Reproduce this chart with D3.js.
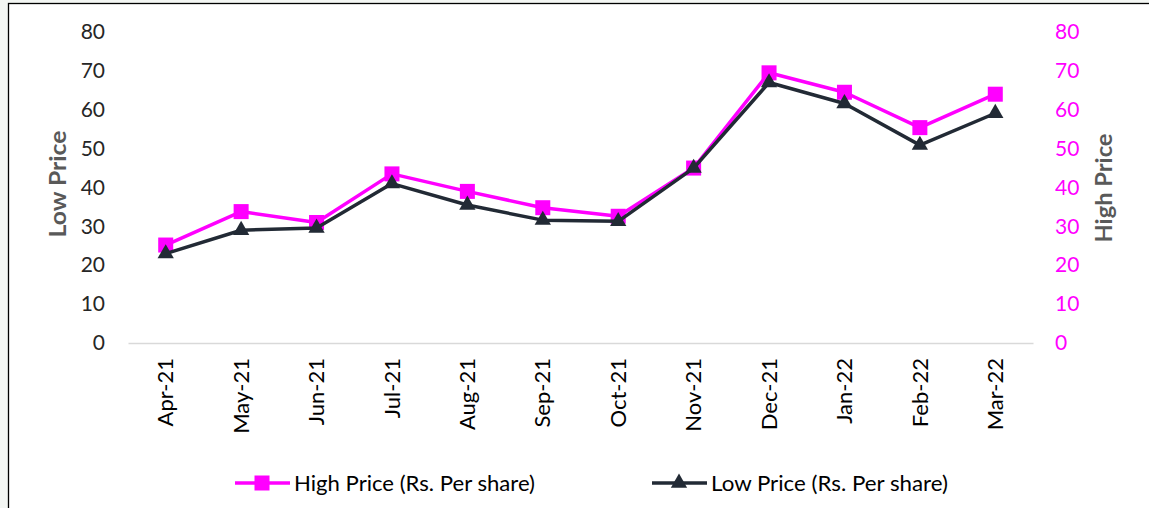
<!DOCTYPE html>
<html>
<head>
<meta charset="utf-8">
<script src="https://cdn.jsdelivr.net/npm/d3@7"></script>
<style>
  body { margin: 0; background: #f3f6f3; }
  svg { display: block; }
  text { font-family: Lato, "Open Sans", sans-serif; }
</style>
</head>
<body>
<div id="chart"></div>
<script>
// data
const months = ["Apr-21", "May-21", "Jun-21", "Jul-21", "Aug-21", "Sep-21",
                "Oct-21", "Nov-21", "Dec-21", "Jan-22", "Feb-22", "Mar-22"];
const highPrice = [25.2, 33.8, 31.0, 43.5, 39.0, 34.8, 32.6, 45.0, 69.5, 64.5, 55.4, 64.0];
const lowPrice  = [23.0, 29.0, 29.6, 41.0, 35.5, 31.6, 31.3, 45.0, 67.0, 61.6, 50.9, 59.1];
const yTicks = [0, 10, 20, 30, 40, 50, 60, 70, 80];

const pink = "#ff00ff";
const dark = "#222a35";

const W = 1149, H = 508;
const margin = {top: 32, right: 116, bottom: 165, left: 128};
const width = W - margin.left - margin.right;
const height = H - margin.top - margin.bottom;

const svg = d3.select("#chart").append("svg")
    .attr("width", W)
    .attr("height", H);

// frame
svg.append("rect")
    .attr("x", 8.5).attr("y", 3.5)
    .attr("width", W + 10).attr("height", H + 10)
    .attr("fill", "white")
    .attr("stroke", "#000")
    .attr("stroke-width", 1.3);

const g = svg.append("g")
    .attr("transform", `translate(${margin.left},${margin.top})`);

// scales
const x = d3.scaleBand().domain(months).range([0, width]);
const yLeft = d3.scaleLinear().domain([0, 80]).range([height, 0]);
const yRight = d3.scaleLinear().domain([0, 80]).range([height, 0]);

// left axis
const leftAxis = g.append("g")
    .attr("transform", "translate(-23,0)")
    .call(d3.axisLeft(yLeft).tickValues(yTicks).tickSize(0).tickPadding(0));
leftAxis.select(".domain").remove();
leftAxis.selectAll("text")
    .attr("fill", "#262626")
    .style("font-size", "21px");

// right axis
const rightAxis = g.append("g")
    .attr("transform", `translate(${width + 22},0)`)
    .call(d3.axisRight(yRight).tickValues(yTicks).tickSize(0).tickPadding(0));
rightAxis.select(".domain").remove();
rightAxis.selectAll("text")
    .attr("fill", pink)
    .style("font-size", "21px");

// x axis
const xAxis = g.append("g")
    .attr("transform", `translate(0,${height})`)
    .call(d3.axisBottom(x).tickSize(0));
xAxis.select(".domain")
    .attr("stroke", "#d9d9d9")
    .attr("stroke-width", 1.5);
xAxis.selectAll("text")
    .attr("transform", "rotate(-90)")
    .attr("text-anchor", "end")
    .attr("dy", "0.35em")
    .attr("x", -15)
    .attr("y", 0)
    .attr("fill", "#000")
    .style("font-size", "22px");

// axis titles
svg.append("text")
    .attr("transform", "translate(66,184) rotate(-90)")
    .attr("text-anchor", "middle")
    .attr("fill", "#595959")
    .attr("textLength", 107)
    .attr("lengthAdjust", "spacingAndGlyphs")
    .style("font-size", "22px")
    .style("font-weight", "bold")
    .text("Low Price");

svg.append("text")
    .attr("transform", "translate(1112,188) rotate(-90)")
    .attr("text-anchor", "middle")
    .attr("fill", "#595959")
    .attr("textLength", 109)
    .attr("lengthAdjust", "spacingAndGlyphs")
    .style("font-size", "22px")
    .style("font-weight", "bold")
    .text("High Price");

// lines
const cx = (d, i) => x(months[i]) + x.bandwidth() / 2;

const highLine = d3.line().x(cx).y(d => yRight(d));
const lowLine = d3.line().x(cx).y(d => yLeft(d));

g.append("path")
    .datum(highPrice)
    .attr("d", highLine)
    .attr("fill", "none")
    .attr("stroke", pink)
    .attr("stroke-width", 3.5)
    .attr("stroke-linejoin", "round");

g.selectAll(".high-pt")
    .data(highPrice)
    .enter().append("rect")
    .attr("class", "high-pt")
    .attr("x", (d, i) => cx(d, i) - 7.5)
    .attr("y", d => yRight(d) - 7.5)
    .attr("width", 15)
    .attr("height", 15)
    .attr("fill", pink);

g.append("path")
    .datum(lowPrice)
    .attr("d", lowLine)
    .attr("fill", "none")
    .attr("stroke", dark)
    .attr("stroke-width", 3.5)
    .attr("stroke-linejoin", "round");

const tri = d3.symbol().type(d3.symbolTriangle).size(115);

g.selectAll(".low-pt")
    .data(lowPrice)
    .enter().append("path")
    .attr("class", "low-pt")
    .attr("d", tri)
    .attr("transform", (d, i) => `translate(${cx(d, i)},${yLeft(d)})`)
    .attr("fill", dark);

// legend
const legend = svg.append("g").attr("transform", "translate(0,483)");

const legendItems = [
    {label: "High Price (Rs. Per share)", color: pink, x0: 235, textW: 241, marker: "square"},
    {label: "Low Price (Rs. Per share)", color: dark, x0: 652, textW: 237, marker: "triangle"}
];

legendItems.forEach(item => {
    legend.append("line")
        .attr("x1", item.x0).attr("x2", item.x0 + 55)
        .attr("y1", 0).attr("y2", 0)
        .attr("stroke", item.color)
        .attr("stroke-width", 3.5);
    if (item.marker === "square") {
        legend.append("rect")
            .attr("x", item.x0 + 27 - 7.5).attr("y", -7.5)
            .attr("width", 15).attr("height", 15)
            .attr("fill", item.color);
    } else {
        legend.append("path")
            .attr("d", tri)
            .attr("transform", `translate(${item.x0 + 27},0)`)
            .attr("fill", item.color);
    }
    legend.append("text")
        .attr("x", item.x0 + 59)
        .attr("y", 0)
        .attr("dy", "0.35em")
        .attr("fill", "#000")
        .attr("textLength", item.textW)
        .attr("lengthAdjust", "spacingAndGlyphs")
        .style("font-size", "22px")
        .text(item.label);
});
</script>
</body>
</html>
